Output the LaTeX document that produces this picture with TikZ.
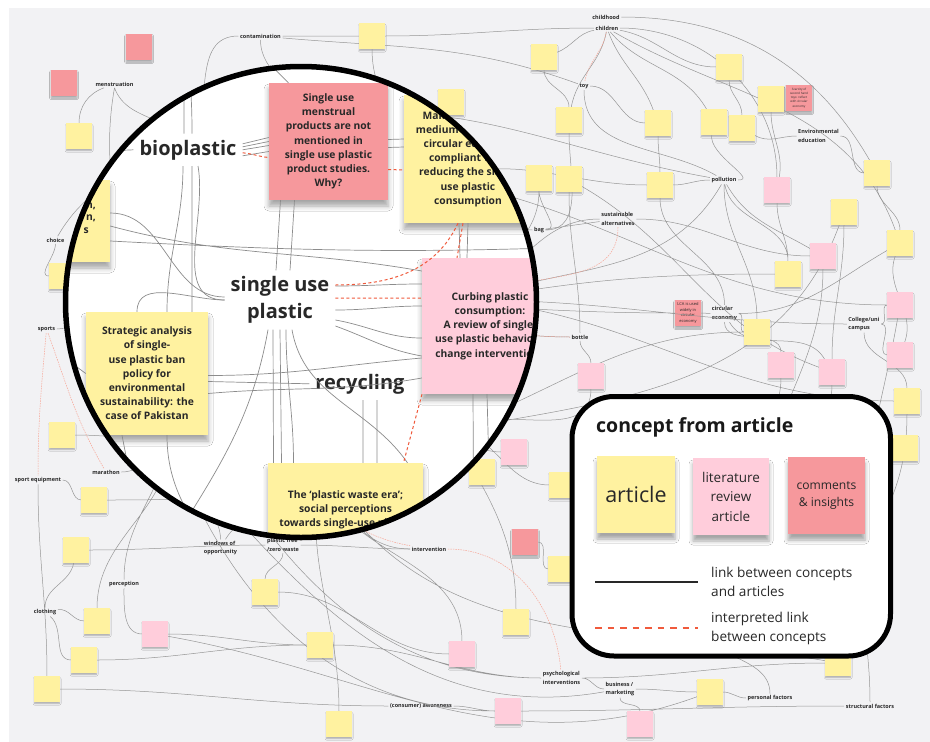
\documentclass[tikz,border=0pt]{standalone}
\usepackage{fontspec}
\setmainfont{Open Sans}
\usetikzlibrary{positioning, shadows.blur}

\definecolor{paperGray}{RGB}{242,242,244}
\definecolor{linkGray}{RGB}{150,150,150}
\definecolor{lensGray}{RGB}{140,140,140}
\definecolor{noteYellow}{RGB}{255,242,160}
\definecolor{notePink}{RGB}{255,205,219}
\definecolor{noteRed}{RGB}{246,152,156}
\definecolor{hunchRed}{RGB}{240,90,60}
\definecolor{inkGray}{RGB}{40,40,40}

\newcommand{\conceptfont}{\fontsize{5.5}{8.5}\selectfont\bfseries}

\begin{document}
\begin{tikzpicture}[x=1pt, y=-1pt,
    maplink/.style={linkGray, line width=0.5pt},
    hunch/.style={hunchRed!55, line width=0.5pt, dash pattern=on 1.5pt off 1pt},
    lenslink/.style={lensGray, line width=0.7pt},
    lenshunch/.style={hunchRed, line width=1pt, dash pattern=on 3pt off 2.5pt},
    concept/.style={font=\conceptfont, text=inkGray, align=left, inner sep=1.5pt},
    keyword/.style={font=\fontsize{20}{27}\selectfont\bfseries, text=inkGray, align=center, inner sep=6pt},
    sticky/.style={minimum width=25pt, minimum height=25pt, inner sep=1pt, text=inkGray, align=center,
        blur shadow={shadow xshift=0pt, shadow yshift=-2pt, shadow blur radius=1.5pt, shadow opacity=30}},
    ysticky/.style={sticky, fill=noteYellow},
    psticky/.style={sticky, fill=notePink},
    rsticky/.style={sticky, fill=noteRed, minimum width=26pt, minimum height=26pt},
    bigsticky/.style={inner sep=0pt, text=inkGray, align=center, font=\fontsize{10.3}{14.2}\selectfont\bfseries,
        blur shadow={shadow xshift=0pt, shadow yshift=-6pt, shadow blur radius=5pt, shadow opacity=35}},
    keysticky/.style={inner sep=0pt, text=inkGray, align=center,
        blur shadow={shadow xshift=0pt, shadow yshift=-6pt, shadow blur radius=4pt, shadow opacity=35}},
    keytext/.style={font=\fontsize{13.6}{19}\selectfont, text=inkGray, align=left, anchor=west, inner sep=0pt}
]
\useasboundingbox (0,0) rectangle (930,742);
\fill[white] (0,0) rectangle (930,742);
\fill[paperGray] (9,8) rectangle (930,742);

% Concepts of the map
\node[concept] (contam) at (260.5,36) {contamination};
\node[concept] (menst) at (114.5,84) {menstruation};
\node[concept] (childhood) at (606,17) {childhood};
\node[concept] (children) at (607,28) {children};
\node[concept] (toy) at (584,86) {toy};
\node[concept] (envEdu) at (818.5,136) {Environmental\\education};
\node[concept] (pollution) at (724,180) {pollution};
\node[concept] (bag) at (539,230) {bag};
\node[concept] (sustAlt) at (618,219) {sustainable\\alternatives};
\node[concept] (choice) at (55.5,240) {choice};
\node[concept] (sports) at (46.5,329) {sports};
\node[concept] (circEco) at (724.5,313.5) {circular\\economy};
\node[concept] (college) at (864,324) {College/uni\\campus};
\node[concept] (bottle) at (580,337) {bottle};
\node[concept] (marathon) at (106,472) {marathon};
\node[concept] (sportEq) at (38,480) {sport equipment};
\node[concept] (windows) at (220.5,548) {windows of\\opportunity};
\node[concept] (plasticFree) at (283,545) {plastic free\\/zero waste};
\node[concept] (intervention) at (429,549) {intervention};
\node[concept] (perception) at (124,584) {perception};
\node[concept] (clothing) at (45,612) {clothing};
\node[concept] (psych) at (561.5,678) {psychological\\interventions};
\node[concept] (awareness) at (421,706) {(consumer) awareness};
\node[concept] (business) at (620,689) {business /\\marketing};
\node[concept] (personal) at (770,698) {personal factors};
\node[concept] (structural) at (870,706) {structural factors};

% Ends hidden under the lens and the key
\coordinate (hubN) at (300,120);
\coordinate (hubNW) at (190,150);
\coordinate (hubW) at (120,290);
\coordinate (hubC) at (300,300);
\coordinate (hubNE) at (440,180);
\coordinate (hubE) at (470,300);
\coordinate (hubSW) at (170,440);
\coordinate (hubS) at (320,470);
\coordinate (hubSE) at (450,430);
\coordinate (hubK1) at (620,520);
\coordinate (hubK2) at (760,520);
\coordinate (hubK3) at (860,560);
\coordinate (hubK4) at (700,620);

% Stickies of the map
\node[ysticky] (y1) at (372,36) {};
\node[ysticky] (y2) at (544,57) {};
\node[ysticky] (y3) at (79,136) {};
\node[ysticky] (y4) at (569,120) {};
\node[ysticky] (y5) at (729,67) {};
\node[ysticky] (y6) at (771,99) {};
\node[ysticky] (y7) at (658,123) {};
\node[ysticky] (y8) at (714,122) {};
\node[ysticky] (y9) at (742,128) {};
\node[ysticky] (y10) at (539,178) {};
\node[ysticky] (y11) at (569,179) {};
\node[ysticky] (y12) at (660,185) {};
\node[ysticky] (y13) at (877,173) {};
\node[ysticky] (y14) at (844,212) {};
\node[ysticky] (y15) at (900,243) {};
\node[ysticky] (y16) at (788,274) {};
\node[ysticky] (y17) at (757,332) {};
\node[ysticky] (y18) at (907,401) {};
\node[ysticky] (y19) at (62,276) {};
\node[ysticky] (y20) at (62,435) {};
\node[ysticky] (y21) at (94,500) {};
\node[ysticky] (y22) at (76,550) {};
\node[ysticky] (y23) at (97,621) {};
\node[ysticky] (y24) at (84,660) {};
\node[ysticky] (y25) at (47,689) {};
\node[ysticky] (y26) at (265,592) {};
\node[ysticky] (y27) at (320,645) {};
\node[ysticky] (y28) at (482,472) {};
\node[ysticky] (y29) at (561,569) {};
\node[ysticky] (y30) at (516,622) {};
\node[ysticky] (y31) at (339,724) {};
\node[ysticky] (y32) at (838,663) {};
\node[ysticky] (y33) at (710,692) {};
\node[ysticky] (y34) at (451,102) {};
\node[ysticky] (y35) at (562,485) {};
\node[ysticky] (y36) at (905,448) {};
\node[psticky] (p1) at (777,190) {};
\node[psticky] (p2) at (823,256) {};
\node[psticky] (p3) at (900,305) {};
\node[psticky] (p4) at (900,355) {};
\node[psticky] (p5) at (781,365) {};
\node[psticky] (p6) at (832,372) {};
\node[psticky] (p7) at (591,376) {};
\node[psticky] (p8) at (514,452) {};
\node[psticky] (p9) at (155,634) {};
\node[psticky] (p10) at (462,654) {};
\node[psticky] (p11) at (508,711) {};
\node[psticky] (p12) at (640,724) {};
\node[rsticky] (r1) at (139,47) {};
\node[rsticky] (r2) at (64,83) {};
\node[rsticky, font=\fontsize{3}{4.2}\selectfont] (r3) at (799,98) {Scarcity of\\second hand\\toys: reflect\\with circular\\economy};
\node[rsticky, font=\fontsize{4}{5.5}\selectfont] (r4) at (688,313) {LCA is used\\widely in\\circular\\economy};
\node[rsticky] (r5) at (525,542) {};

% Links of the map
\draw[maplink] (contam) -- (y1) (y1) to[out=0,in=180] (children)
    (contam) to[out=-5,in=160] (toy)
    (contam) to[out=-90,in=90] (hubN)
    (contam) to[out=180,in=60] (hubNW)
    (menst) to[out=-160,in=90] (y3)
    (menst.south) to[out=-100,in=90] (hubW)
    (menst.south) to[out=-70,in=110] (hubNW)
    (y1) to[out=-90,in=120] (hubNE)
    (hubN) to[out=10,in=170] (pollution)
    (hubNE) to[out=20,in=180] (y12);
\draw[maplink] (children) to[out=-170,in=20] (y2)
    (children) to[out=-100,in=80] (y4)
    (children) to[out=-10,in=180] (y5)
    (children) to[out=-70,in=110] (y7)
    (children) to[out=-50,in=120] (y8)
    (children) to[out=0,in=90] (p1)
    (children) to[out=-30,in=110] (y15)
    (childhood) to[out=0,in=120] (y13)
    (toy) to[out=-90,in=150] (pollution)
    (toy) to[out=0,in=180] (y7)
    (y5) to[out=-90,in=90] (y9)
    (y6) to[out=-90,in=80] (p1)
    (y7) to[out=-90,in=90] (y12)
    (y8) to[out=-100,in=0] (pollution)
    (y9) to[out=-30,in=180] (envEdu)
    (envEdu) to[out=0,in=180] (y13)
    (y2) to[out=-90,in=90] (y4)
    (y4) to[out=-90,in=0] (bag);
\draw[maplink] (bag) -- (sustAlt)
    (bag) to[out=0,in=-90] (y10)
    (bag) to[out=180,in=30] (hubNE)
    (y10) to[out=-90,in=60] (hubE)
    (y11) to[out=-90,in=90] (bottle)
    (sustAlt) to[out=0,in=180] (p2)
    (sustAlt) to[out=180,in=30] (hubE)
    (pollution) to[out=180,in=0] (y12)
    (pollution) to[out=-90,in=90] (y17)
    (pollution) to[out=-60,in=150] (p2)
    (pollution) to[out=-120,in=20] (hubE)
    (pollution) to[out=-80,in=90] (y16)
    (y12) to[out=-90,in=90] (circEco)
    (p1) to[out=-90,in=90] (y16)
    (y14) to[out=-90,in=90] (p6)
    (y15) to[out=-110,in=70] (p4)
    (y13) to[out=-90,in=90] (y15)
    (college) to[out=0,in=180] (p3)
    (college) to[out=0,in=180] (p4)
    (college) to[out=180,in=0] (hubE)
    (college) to[out=-90,in=90] (y18)
    (circEco) -- (r4)
    (circEco) to[out=-90,in=90] (p5)
    (circEco) to[out=-60,in=120] (p6)
    (circEco) to[out=0,in=-150] (y15)
    (circEco) to[out=0,in=180] (y17)
    (r4) to[out=180,in=0] (hubC)
    (bottle) to[out=-90,in=90] (p7)
    (bottle) to[out=180,in=0] (hubC)
    (p5) to[out=-90,in=60] (hubK1)
    (p6) to[out=-90,in=90] (hubK2)
    (p2) to[out=-90,in=90] (hubK2)
    (p3) to[out=-100,in=90] (hubK3)
    (y18) to[out=-90,in=60] (hubK3)
    (y16) to[out=180,in=10] (hubE)
    (y17) to[out=180,in=20] (hubSE)
    (p7) to[out=-90,in=30] (hubSE)
    (y35) to[out=180,in=0] (hubSE)
    (y36) to[out=180,in=0] (hubK3)
    (hubNE) to[out=-10,in=180] (p3)
    (hubE) to[out=-5,in=180] (y18)
    (hubSE) to[out=10,in=-110] (y14)
    (y11) to[out=-30,in=160] (p6);
\draw[maplink] (choice) to[out=-90,in=180] (y19)
    (choice) to[out=60,in=200] (hubNW)
    (sports) to[out=0,in=180] (hubW)
    (y19) to[out=0,in=180] (hubC)
    (y20) to[out=0,in=180] (hubSW)
    (marathon) to[out=0,in=-150] (hubSW)
    (sportEq) to[out=0,in=180] (y21)
    (sportEq) to[out=-90,in=90] (y25)
    (y21) to[out=0,in=-160] (hubS)
    (y22) to[out=0,in=180] (plasticFree)
    (y22) to[out=-100,in=90] (clothing)
    (clothing) to[out=10,in=180] (y23)
    (clothing) to[out=-40,in=180] (y24)
    (perception) to[out=-90,in=180] (p9)
    (perception) to[out=90,in=-100] (hubSW)
    (y23) to[out=90,in=-90] (hubSW)
    (y24) to[out=0,in=180] (y27)
    (y25) to[out=0,in=180] (awareness)
    (p9) to[out=0,in=180] (y27)
    (plasticFree) to[out=-90,in=90] (y26)
    (plasticFree) to[out=0,in=180] (intervention)
    (y26) to[out=0,in=180] (p10)
    (windows) to[out=90,in=-120] (hubSW)
    (windows) to[out=60,in=-90] (hubS);
\draw[maplink] (intervention) to[out=180,in=-60] (hubS)
    (y28) to[out=180,in=0] (hubSE)
    (p8) to[out=180,in=-30] (hubSE)
    (y30) to[out=90,in=-60] (hubSE)
    (p10) to[out=90,in=-80] (hubS)
    (awareness) to[out=0,in=180] (p11)
    (y31) to[out=90,in=-100] (hubS)
    (psych) to[out=0,in=180] (business)
    (psych) to[out=180,in=0] (y27)
    (business) to[out=0,in=180] (y33)
    (business) to[out=-90,in=90] (p12)
    (y33) to[out=0,in=180] (personal)
    (personal) to[out=90,in=-90] (hubK4)
    (structural) to[out=90,in=-90] (hubK3)
    (p11) to[out=0,in=180] (structural)
    (y32) to[out=180,in=0] (psych)
    (r5) to[out=0,in=180] (y29)
    (hubSW) to[out=-70,in=180] (p11)
    (hubS) to[out=-60,in=170] (y32)
    (hubW) to[out=-60,in=180] (psych)
    (hubSW) to[out=-50,in=190] (business)
    (p9) to[out=-10,in=200] (y33);
% interpreted links
\draw[hunch] (children) to[out=-100,in=80] (toy)
    (sports) to[out=-95,in=90] (sportEq)
    (sports) to[out=-70,in=120] (marathon)
    (sustAlt) to[out=-90,in=30] (hubE)
    (bottle) to[out=180,in=0] (hubC)
    (intervention) to[out=0,in=95] (psych)
    (hubS) to[out=-80,in=170] (intervention);

% sticky faces go back over the links that pass them
\foreach \n in {1,...,36} \fill[noteYellow] (y\n.north west) rectangle (y\n.south east);
\foreach \n in {1,...,12} \fill[notePink] (p\n.north west) rectangle (p\n.south east);

% Lens
\coordinate (lens) at (301,302);
\fill[white] (lens) circle[radius=235.5pt];

\coordinate (rimA) at (184,40);
\coordinate (rimB) at (245,40);
\coordinate (rimC) at (40,154);
\coordinate (rimE) at (580,247);
\coordinate (rimF) at (40,340);
\coordinate (rimG) at (150,580);
\coordinate (rimH) at (230,580);
\coordinate (rimI) at (474,580);
\coordinate (rimJ) at (492,580);

\begin{scope}
    \clip (lens) circle[radius=235.5pt];
    \node[bigsticky, fill=noteRed, minimum width=119pt, minimum height=117pt] (mMenstrual) at (328.5,141.5) {Single use\\menstrual\\products are not\\mentioned in\\single use plastic\\product studies.\\Why?};
    \node[bigsticky, fill=noteYellow, minimum width=128pt, minimum height=128pt] (mMaking) at (468,159) {Making small and\\medium enterprises\\circular economy\\compliant with\\reducing the single\\use plastic\\consumption};
    \node[bigsticky, fill=notePink, minimum width=136pt, minimum height=136pt] (mCurbing) at (490,326) {Curbing plastic\\consumption:\\A review of single-\\use plastic behaviour\\change interventions};
    \node[bigsticky, fill=noteYellow, minimum width=122pt, minimum height=123pt] (mStrategic) at (147,373.5) {Strategic analysis\\of single-\\use plastic ban\\policy for\\environmental\\sustainability: the\\case of Pakistan};
    \node[bigsticky, fill=noteYellow, minimum width=155pt, minimum height=155pt] (mWaste) at (345.5,540.5) {};
    \node[text=inkGray, align=center, font=\fontsize{10.3}{14.2}\selectfont\bfseries, anchor=north, inner sep=0pt] (mWasteTitle) at (345.5,490) {The ‘plastic waste era’;\\social perceptions\\towards single-use plastic};
    \node[bigsticky, fill=noteYellow, minimum width=122pt, minimum height=82pt] (mLeft) at (49,221) {};
    \node[text=inkGray, align=right, font=\fontsize{10.3}{12.5}\selectfont\bfseries, anchor=east, inner sep=0pt] (mLeftTail) at (96,218) {n,\\n,\\s\hspace*{7pt}};
    \node[keyword, anchor=base] (bio) at (188,155) {bioplastic};
    \node[keyword] (sup) at (280,300) {single use\\plastic};
    \node[keyword, anchor=base] (rec) at (360,389) {recycling};

    % links seen through the lens
    \draw[lenslink] ([yshift=6pt]bio.east) -- ([yshift=4pt]mMenstrual.west)
        ([yshift=3pt]bio.east) -- ([yshift=0pt]mMenstrual.west)
        ([yshift=0pt]bio.east) -- ([yshift=-4pt]mMenstrual.west)
        ([yshift=-6pt]bio.east) -- ([yshift=-10pt]mMenstrual.west)
        ([xshift=-4pt]bio.north) -- (rimA)
        ([xshift=4pt]bio.north) to[out=90,in=-80] (rimA)
        ([xshift=-5pt]bio.south) to[out=-90,in=90] ([xshift=20pt]mStrategic.north)
        ([xshift=4pt]bio.south) to[out=-90,in=90] ([xshift=45pt]mStrategic.north)
        (bio.west) -- (rimC)
        ([xshift=10pt]bio.south) to[out=-80,in=180] (sup.west);
    \draw[lenslink] ([xshift=-48pt]mMenstrual.south) -- ([xshift=-4pt]sup.north)
        ([xshift=-34pt]mMenstrual.south) -- ([xshift=10pt]sup.north)
        ([xshift=-40pt]mMenstrual.north) -- (rimB)
        ([yshift=2pt]mMenstrual.east) -- ([yshift=20pt]mMaking.west)
        ([yshift=-6pt]mMenstrual.east) -- ([yshift=12pt]mMaking.west)
        ([xshift=-9pt]mMaking.south) -- ([xshift=-30pt]mCurbing.north)
        ([xshift=0pt]mMaking.south) -- ([xshift=-23pt]mCurbing.north);
    \draw[lenslink] ([yshift=14pt]sup.east) to[out=0,in=180] ([yshift=42pt]mCurbing.west)
        ([yshift=-10pt]sup.east) to[out=0,in=180] ([yshift=20pt]mCurbing.west)
        ([yshift=-20pt]sup.east) to[out=-10,in=180] ([yshift=-12pt]mCurbing.west)
        ([yshift=-26pt]sup.east) to[out=-20,in=170] ([yshift=-30pt]mCurbing.west)
        ([xshift=-7pt]sup.south) -- ([xshift=-72pt]mWaste.north)
        (sup.south) -- ([xshift=-64pt]mWaste.north)
        ([xshift=6pt]sup.south) to[out=-90,in=90] ([xshift=-52pt]mWaste.north)
        ([xshift=12pt]sup.south) to[out=-80,in=125] ([xshift=62pt]mWaste.north)
        ([xshift=-12pt]sup.south) to[out=-100,in=60] (rimG);
    \draw[lenslink] (rec.west) -- ([yshift=-8pt]mStrategic.east)
        ([xshift=3pt]rec.south) -- ([xshift=17.5pt]mWaste.north)
        ([xshift=17pt]rec.south) -- ([xshift=31.5pt]mWaste.north)
        ([yshift=-2pt]mStrategic.east) to[out=0,in=185] ([yshift=-32pt]mCurbing.west)
        ([yshift=-20pt]mStrategic.east) to[out=5,in=190] ([yshift=-52pt]mCurbing.west)
        ([xshift=-10pt]mStrategic.north) to[out=90,in=180] (sup.west)
        (mStrategic.west) -- (rimF)
        ([xshift=-25pt]mStrategic.south) -- (rimG)
        ([xshift=20pt]mStrategic.south) to[out=-90,in=120] (rimH);
    \draw[lenslink] ([yshift=-20pt]mLeft.east) to[out=-3,in=182] (rimE)
        ([yshift=-5pt]mLeft.east) to[out=-15,in=170] ([yshift=55pt]mCurbing.west)
        ([xshift=-17pt]mCurbing.south) -- (rimI)
        ([xshift=-3pt]mCurbing.south) -- (rimJ)
        ([yshift=8pt]mLeft.east) to[out=0,in=180] ([yshift=3pt]sup.west);
    % interpreted links
    \draw[lenshunch] ([yshift=-3pt]bio.east) to[out=-5,in=175] ([yshift=-16pt]mMenstrual.west)
        ([yshift=-28pt]mMenstrual.east) -- ([yshift=-11pt]mMaking.west)
        ([yshift=2pt]sup.east) -- ([yshift=28pt]mCurbing.west)
        ([yshift=15pt]sup.east) to[out=0,in=-115] ([xshift=-10pt]mMaking.south)
        ([xshift=-5pt]mMaking.south) -- ([xshift=-33pt]mCurbing.north)
        ([xshift=-68pt]mCurbing.south) -- ([xshift=58pt]mWaste.north);
\end{scope}
\draw[line width=5.5pt] (lens) circle[radius=235.5pt];

% Key
\node[draw, line width=5pt, fill=white, rounded corners=42pt, minimum width=318.5pt, minimum height=259.5pt, inner sep=0pt] (keyFrame) at (731.25,526.25) {};
\node[font=\fontsize{19.5}{22}\selectfont\bfseries, text=black!90, anchor=base west, inner sep=0pt] (keyTitle) at (596,432.5) {concept from article};
\node[keysticky, fill=noteYellow, minimum width=78pt, minimum height=77pt, font=\fontsize{21.5}{24}\selectfont] (keyArticle) at (636,494.5) {article};
\node[keysticky, fill=notePink, minimum width=76pt, minimum height=77pt, font=\fontsize{13.5}{19.5}\selectfont] (keyReview) at (731,496.5) {literature\\review\\article};
\node[keysticky, fill=noteRed, minimum width=77pt, minimum height=77pt, font=\fontsize{12.1}{16.5}\selectfont] (keyComment) at (826.5,495.5) {comments\\\& insights};
\coordinate (keyLinkA) at (595,582);
\coordinate (keyLinkB) at (698,582);
\coordinate (keyHunchA) at (595,628);
\coordinate (keyHunchB) at (698,628);
\draw[line width=2pt, inkGray] (keyLinkA) -- (keyLinkB);
\draw[line width=2pt, hunchRed, dash pattern=on 6.5pt off 6pt] (keyHunchA) -- (keyHunchB);
\node[keytext] (keyLinkText) at (711,581.5) {link between concepts\\and articles};
\node[keytext] (keyHunchText) at (711,628) {interpreted link\\between concepts};
\end{tikzpicture}
\end{document}
